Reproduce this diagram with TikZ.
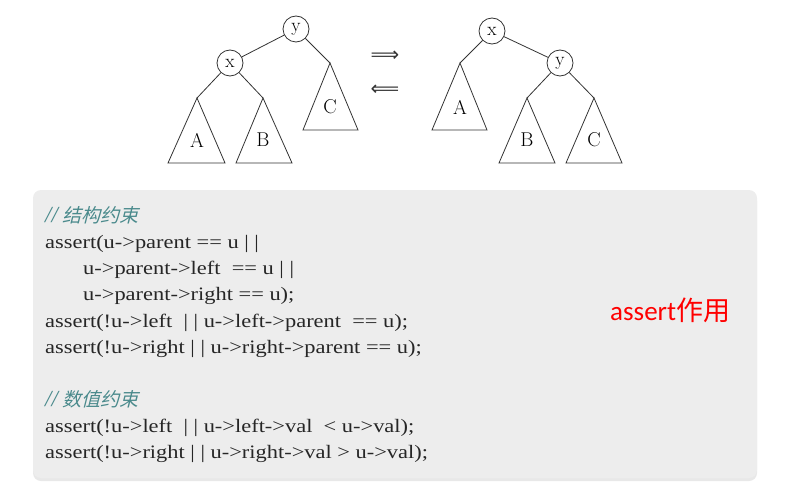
\documentclass[tikz,border=0pt]{standalone}
\usepackage{fontspec}
\setmainfont{Liberation Serif}
\newfontfamily\codefont[FakeStretch=1.18]{Liberation Serif}
\newfontfamily\cjkit[FakeSlant=0.25]{Noto Sans CJK SC}
\newfontfamily\cjk{Noto Sans CJK SC}
\newfontfamily\calib{Carlito}
\newfontfamily\symfont{DejaVu Sans}
\usetikzlibrary{shadows}
\definecolor{panel}{HTML}{EDEDED}
\definecolor{cmt}{HTML}{4A8A8C}
\definecolor{treeline}{HTML}{333333}
\begin{document}
\begin{tikzpicture}[x=1pt,y=-1pt,
  tnode/.style={circle,draw=treeline,line width=0.8pt,minimum size=26pt,inner sep=0pt,font=\fontsize{19}{19}\fontfamily{lmr}\selectfont,fill=white},
  subtree/.style={draw=treeline,line width=0.8pt},
  edge/.style={draw=treeline,line width=0.8pt},
  tlabel/.style={font=\fontsize{20}{20}\fontfamily{lmr}\selectfont},
  arrowsym/.style={inner sep=0pt,font=\symfont\fontsize{20}{20}\selectfont,text=treeline},
  codeline/.style={anchor=base west,inner sep=0pt,font=\codefont\fontsize{19}{19}\selectfont,text=black!85},
  cmtline/.style={anchor=base west,inner sep=0pt,font=\fontsize{19}{19}\selectfont,text=cmt}]
\useasboundingbox (0,0) rectangle (794,500);
% panel
\fill[panel,rounded corners=8pt,drop shadow={opacity=0.18,shadow xshift=0pt,shadow yshift=-3pt}] (33,190) rectangle (757,478);
% ---- left tree
\node[tnode] (y1) at (296,29) {y};
\node[tnode] (x1) at (230,63) {x};
\coordinate (A1) at (197,98);
\coordinate (B1) at (263,98);
\coordinate (C1) at (330,63);
\draw[subtree] (A1) -- (168,163) -- (225,163) -- cycle;
\draw[subtree] (B1) -- (236,163) -- (292,163) -- cycle;
\draw[subtree] (C1) -- (303,130) -- (358,130) -- cycle;
\draw[edge] (y1) -- (x1);
\draw[edge] (y1) -- (C1);
\draw[edge] (x1) -- (A1);
\draw[edge] (x1) -- (B1);
\node[tlabel] (la1) at (197,140) {A};
\node[tlabel] (lb1) at (263,140) {B};
\node[tlabel] (lc1) at (330,107) {C};
% arrows
\node[arrowsym] (ra) at (385,56) {⟹};
\node[arrowsym] (la) at (385,90) {⟸};
% ---- right tree
\node[tnode] (x2) at (492,31) {x};
\node[tnode] (y2) at (560,63) {y};
\coordinate (A2) at (460,63);
\coordinate (B2) at (527,98);
\coordinate (C2) at (594,98);
\draw[subtree] (A2) -- (432,130) -- (487,130) -- cycle;
\draw[subtree] (B2) -- (499,163) -- (555,163) -- cycle;
\draw[subtree] (C2) -- (566,163) -- (622,163) -- cycle;
\draw[edge] (x2) -- (y2);
\draw[edge] (x2) -- (A2);
\draw[edge] (y2) -- (B2);
\draw[edge] (y2) -- (C2);
\node[tlabel] (la2) at (460,107) {A};
\node[tlabel] (lb2) at (527,140) {B};
\node[tlabel] (lc2) at (594,140) {C};
% ---- code
\node[cmtline] (c1) at (45,222) {{\fontsize{23}{23}\selectfont\textit{//}}\,{\cjkit 结构约束}};
\node[codeline] (l1) at (45,248) {assert(u->parent == u | |};
\node[codeline] (l2) at (83,274) {u->parent->left~ == u | |};
\node[codeline] (l3) at (83,300) {u->parent->right == u);};
\node[codeline] (l4) at (45,327) {assert(!u->left~~| | u->left->parent~~== u);};
\node[codeline] (l5) at (45,353) {assert(!u->right | | u->right->parent == u);};
\node[cmtline] (c2) at (45,406) {{\fontsize{23}{23}\selectfont\textit{//}}\,{\cjkit 数值约束}};
\node[codeline] (l6) at (45,432) {assert(!u->left~~| | u->left->val~~< u->val);};
\node[codeline] (l7) at (45,458) {assert(!u->right | | u->right->val > u->val);};
% note
\node[anchor=base west,inner sep=0pt,text=red,font=\fontsize{27}{27}\selectfont] (note) at (610,320) {{\calib assert}{\cjk 作用}};
\end{tikzpicture}
\end{document}
